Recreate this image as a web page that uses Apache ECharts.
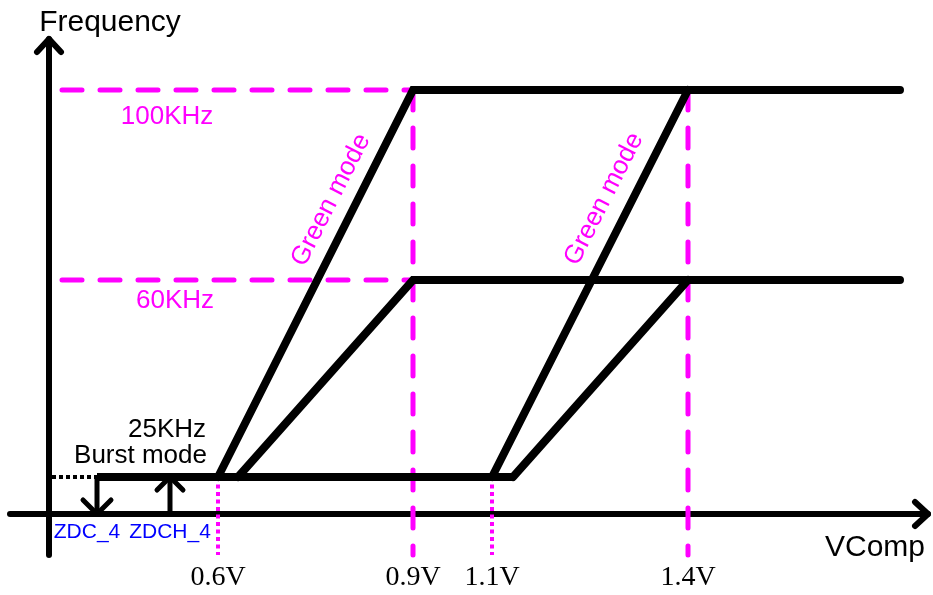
<!DOCTYPE html>
<html>
<head>
<meta charset="utf-8">
<script src="https://cdn.jsdelivr.net/npm/echarts@6/dist/echarts.min.js"></script>
<style>
  html, body { margin: 0; padding: 0; background: #fff; }
  #chart { width: 933px; height: 595px; }
</style>
</head>
<body>
<div id="chart"></div>
<script>
// schematic units (the sketch is not drawn to scale)
const voltLabels = ['0.6V', '0.9V', '1.1V', '1.4V']
const voltPos = [16.9, 36.4, 44.3, 63.9]
const freqLabels = ['100KHz', '60KHz', '25KHz']
const freqLevel = [42.4, 23.4, 3.7]
// four ramps: start on the burst floor, end at a frequency level
const rampStart = [16.9, 18.9, 44.3, 46.4]
const rampEnd = [36.4, 36.4, 63.9, 63.9]
const rampTop = [42.4, 23.4, 42.4, 23.4]
const plateauEnd = 85.1
const refStart = 1.3
const burstDotStart = 0.3
const zdcLabels = ['ZDC_4', 'ZDCH_4']
const zdcPos = [4.8, 12.1]
const xRange = [-3.9, 87.9]
const yRange = [-4.1, 47.5]

const MAGENTA = '#ff00ff'
const BLUE = '#0000ff'
const SANS = '"Liberation Sans", Arial, sans-serif'
const SERIF = '"Liberation Serif", "Times New Roman", serif'

const chart = echarts.init(document.getElementById('chart'))

const seg = (data, lineStyle, z) => ({
  type: 'line',
  data,
  symbol: 'none',
  silent: true,
  clip: false,
  animation: false,
  z: z || 2,
  lineStyle
})

const chevron = (tip, dx, dy, w) => seg(
  [[tip[0] + dx[0], tip[1] + dy[0]], tip, [tip[0] + dx[1], tip[1] + dy[1]]],
  { color: '#000', width: w, cap: 'round', join: 'round' }, 4
)

const thick = { color: '#000', width: 8, cap: 'round', join: 'miter' }
const dashed = { color: MAGENTA, width: 5, type: [20, 18], cap: 'round' }
const dotted = { color: MAGENTA, width: 4, type: [4, 3.5] }

const burst = freqLevel[2]
const series = []

// magenta reference lines
series.push(seg([[refStart, freqLevel[0]], [voltPos[1], freqLevel[0]]], dashed, 1))
series.push(seg([[refStart, freqLevel[1]], [voltPos[1], freqLevel[1]]], dashed, 1))
series.push(seg([[voltPos[1], freqLevel[0]], [voltPos[1], yRange[0]]], dashed, 1))
series.push(seg([[voltPos[3], freqLevel[0]], [voltPos[3], yRange[0]]], dashed, 1))
series.push(seg([[voltPos[0], burst], [voltPos[0], yRange[0]]], dotted, 1))
series.push(seg([[voltPos[2], burst], [voltPos[2], yRange[0]]], dotted, 1))

// frequency curves
rampStart.forEach((x, i) => {
  const pts = [[x, burst], [rampEnd[i], rampTop[i]]]
  if (i < 2) pts.push([plateauEnd, rampTop[i]])
  series.push(seg(pts, thick, 3))
})
series.push(seg([[zdcPos[0], burst], [rampStart[3], burst]], { color: '#000', width: 8, cap: 'butt' }, 3))
series.push(seg([[burstDotStart, burst], [zdcPos[0], burst]], { color: '#000', width: 4, type: [4, 3] }, 3))

// ZDC arrows
series.push(seg([[zdcPos[0], burst], [zdcPos[0], 0]], { color: '#000', width: 5 }, 3))
series.push(chevron([zdcPos[0], 0], [-1.4, 1.4], [1.4, 1.4], 5))
series.push(seg([[zdcPos[1], 0], [zdcPos[1], burst]], { color: '#000', width: 5 }, 3))
series.push(chevron([zdcPos[1], burst], [-1.3, 1.3], [-1.3, -1.3], 5))

// axis arrow heads
series.push(chevron([0, yRange[1]], [-1.2, 1.2], [-1.3, -1.3], 6))
series.push(chevron([xRange[1], 0], [-1.3, -1.3], [1.2, -1.2], 6))

// text annotations
const txt = (name, x, y, color, size, family, extra) => ({
  name,
  value: [x, y],
  label: Object.assign({
    color, fontSize: size, fontFamily: family, opacity: 1,
    textBorderWidth: 0, textBorderColor: 'transparent'
  }, extra || {})
})
const labels = [
  txt('Frequency', 6.1, 49.1, '#000', 30, SANS),
  txt('VComp', 82.6, -3.4, '#000', 30, SANS),
  txt(freqLabels[0], 11.8, 39.7, MAGENTA, 26, SANS),
  txt(freqLabels[1], 12.6, 21.3, MAGENTA, 26, SANS),
  txt(freqLabels[2], 11.8, 8.4, '#000', 26, SANS),
  txt('Burst mode', 15.8, 5.8, '#000', 26, SANS, { align: 'right' }),
  txt(zdcLabels[0], 3.8, -1.8, BLUE, 21, SANS),
  txt(zdcLabels[1], 12.1, -1.8, BLUE, 21, SANS),
  txt('Green mode', 28.2, 31.4, MAGENTA, 26, SANS, { rotate: 63 }),
  txt('Green mode', 55.5, 31.5, MAGENTA, 26, SANS, { rotate: 63 })
]
voltLabels.forEach((v, i) => labels.push(txt(v, voltPos[i], -6.4, '#000', 28, SERIF)))

series.push({
  type: 'scatter',
  data: labels,
  symbolSize: 0,
  silent: true,
  clip: false,
  animation: false,
  z: 5,
  itemStyle: { color: '#000', opacity: 1 },
  label: {
    show: true,
    position: 'inside',
    formatter: p => p.name
  }
})

const hiddenBits = {
  axisTick: { show: false },
  axisLabel: { show: false },
  splitLine: { show: false }
}

chart.setOption({
  backgroundColor: '#fff',
  animation: false,
  grid: { left: 10, right: 5, top: 39, bottom: 40, outerBoundsMode: 'none' },
  xAxis: Object.assign({
    type: 'value', min: xRange[0], max: xRange[1],
    axisLine: { show: true, onZero: true, lineStyle: { color: '#000', width: 6 } }
  }, hiddenBits),
  yAxis: Object.assign({
    type: 'value', min: yRange[0], max: yRange[1],
    axisLine: { show: true, onZero: true, lineStyle: { color: '#000', width: 6 } }
  }, hiddenBits),
  series
})
</script>
</body>
</html>
